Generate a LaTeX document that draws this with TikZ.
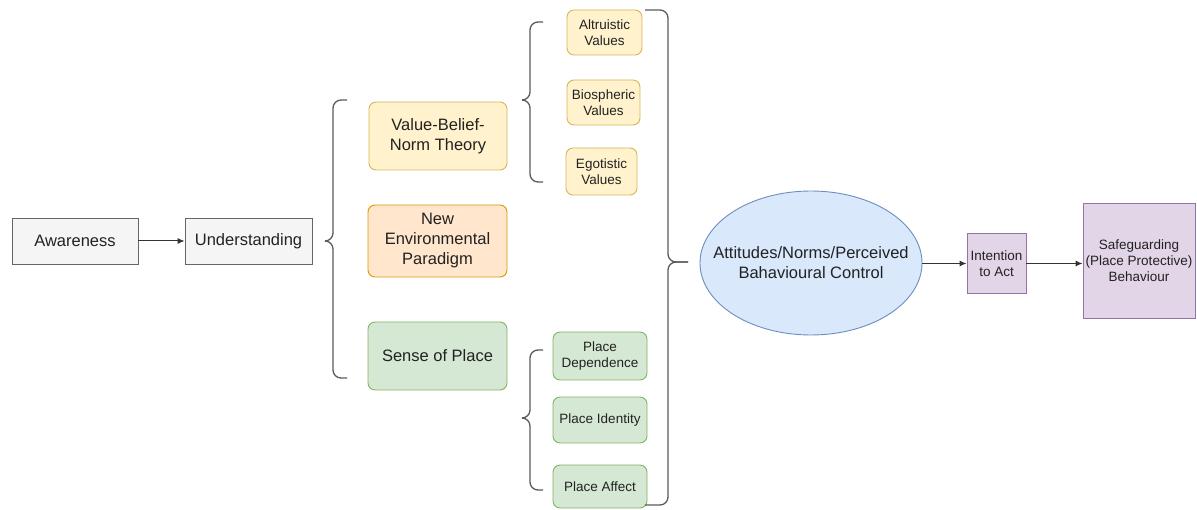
\documentclass[tikz,border=0pt]{standalone}
\usepackage{fontspec}
\setmainfont{Liberation Sans}
\usetikzlibrary{arrows.meta,shapes.geometric}
\definecolor{grayF}{HTML}{F5F5F5}\definecolor{grayD}{HTML}{666666}
\definecolor{yelF}{HTML}{FFF2CC}\definecolor{yelD}{HTML}{D6B656}
\definecolor{oraF}{HTML}{FFE6CC}\definecolor{oraD}{HTML}{D79B00}
\definecolor{grnF}{HTML}{D5E8D4}\definecolor{grnD}{HTML}{82B366}
\definecolor{bluF}{HTML}{DAE8FC}\definecolor{bluD}{HTML}{6C8EBF}
\definecolor{purF}{HTML}{E1D5E7}\definecolor{purD}{HTML}{9673A6}
\definecolor{txt}{HTML}{222222}
\definecolor{brc}{HTML}{5A5A5A}
\begin{document}
\begin{tikzpicture}[x=1pt,y=-1pt,
  base/.style={draw, line width=0.9pt, inner sep=0pt, align=center, text=txt},
  big/.style={font=\fontsize{16.5}{20}\selectfont},
  small/.style={font=\fontsize{13.5}{16}\selectfont},
  graybox/.style={base, big, fill=grayF, draw=grayD},
  yelbox/.style={base, fill=yelF, draw=yelD, rounded corners=7pt},
  orabox/.style={base, fill=oraF, draw=oraD, rounded corners=7pt},
  grnbox/.style={base, fill=grnF, draw=grnD, rounded corners=7pt},
  purbox/.style={base, small, fill=purF, draw=purD},
  conn/.style={draw=black!80, line width=1pt, -{Latex[length=7pt,width=6pt]}},
  brace/.style={draw=brc, line width=1.3pt, rounded corners=8pt}
]
\useasboundingbox (0,0) rectangle (1197,510);

% left chain
\node[graybox, minimum width=126pt, minimum height=46pt] (aw) at (75,241) {Awareness};
\node[graybox, minimum width=127pt, minimum height=46pt] (und) at (248.5,241) {Understanding};
\draw[conn] (aw) -- (und);

% middle column
\node[yelbox, big, minimum width=138pt, minimum height=68pt] (vbn) at (438,136) {Value-Belief-\\Norm Theory};
\node[orabox, big, minimum width=139pt, minimum height=72pt] (nep) at (437.5,241) {New\\Environmental\\Paradigm};
\node[grnbox, big, minimum width=139pt, minimum height=68pt] (sop) at (437.5,356) {Sense of Place};

% values
\node[yelbox, small, minimum width=75pt, minimum height=45pt] (alt) at (604.5,32.5) {Altruistic\\Values};
\node[yelbox, small, minimum width=73pt, minimum height=45pt] (bio) at (603.5,102.5) {Biospheric\\Values};
\node[yelbox, small, minimum width=71pt, minimum height=47pt] (ego) at (601.5,171.5) {Egotistic\\Values};

% place
\node[grnbox, small, minimum width=94pt, minimum height=48pt] (pd) at (600,356) {Place\\Dependence};
\node[grnbox, small, minimum width=94pt, minimum height=46pt] (pi) at (600,420) {Place Identity};
\node[grnbox, small, minimum width=94pt, minimum height=43pt] (pa) at (600,486.5) {Place Affect};

% right part
\node[base, big, ellipse, fill=bluF, draw=bluD, inner xsep=-22pt, inner ysep=0pt, minimum width=222pt, minimum height=144pt] (att) at (811,263) {Attitudes/Norms/Perceived\\Bahavioural Control};
\node[purbox, minimum width=59pt, minimum height=60pt] (int) at (996.5,263.5) {Intention\\to Act};
\node[purbox, minimum width=112pt, minimum height=115pt] (safe) at (1139,260.5) {Safeguarding\\(Place Protective)\\Behaviour};
\draw[conn] (att.east |- int.west) -- (int.west);
\draw[conn] (int.east) -- (int.east -| safe.west);

% braces
\coordinate (b1) at (325,241);
\draw[brace] (347,100) -- (333,100) -- (333,241) -- (b1);
\draw[brace] (b1) -- (333,241) -- (333,378) -- (347,378);

\coordinate (b2) at (522,100);
\draw[brace] (543,22) -- (530,22) -- (530,100) -- (b2);
\draw[brace] (b2) -- (530,100) -- (530,182) -- (543,182);

\coordinate (b3) at (522,418);
\draw[brace] (543,350) -- (530,350) -- (530,418) -- (b3);
\draw[brace] (b3) -- (530,418) -- (530,490) -- (543,490);

\coordinate (b4) at (688,262);
\draw[brace] (645,10) -- (668,10) -- (668,262) -- (b4);
\draw[brace] (b4) -- (668,262) -- (668,505) -- (645,505);
\end{tikzpicture}
\end{document}
